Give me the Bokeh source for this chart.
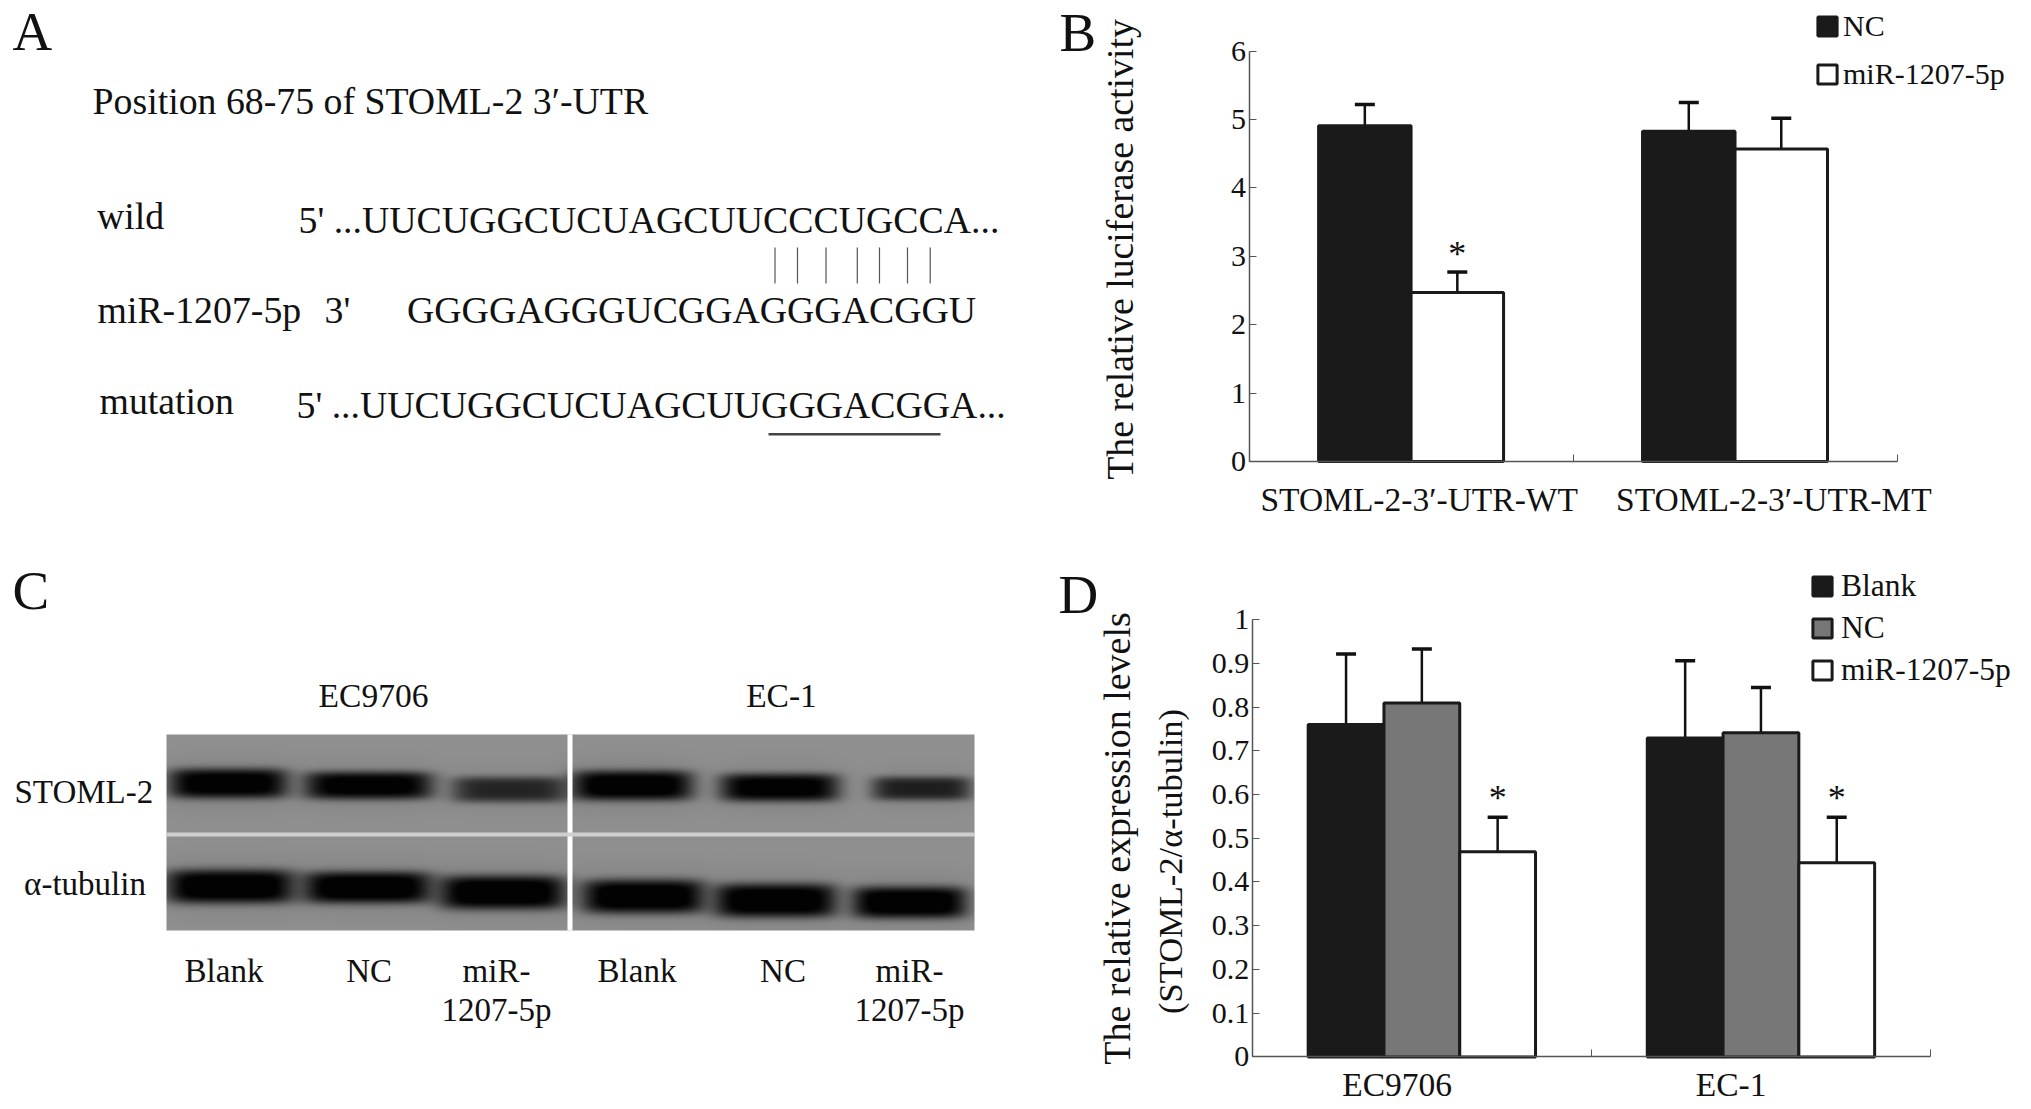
import numpy as np
from bokeh.plotting import figure
from bokeh.layouts import row, column
from bokeh.embed import file_html
from bokeh.resources import INLINE
from bokeh.core.properties import value
from bokeh.models import (ColumnDataSource, FixedTicker, Range1d, Legend, LegendItem,
                          Whisker, TeeHead, Label)

# ---- panel B data
b_groups = ["STOML-2-3′-UTR-WT", "STOML-2-3′-UTR-MT"]
b_series = ["NC", "miR-1207-5p"]
b_nc = [4.91, 4.83]
b_mir = [2.47, 4.57]
b_nc_top = [5.22, 5.25]
b_mir_top = [2.77, 5.02]
b_sig = ["*", ""]
b_yticks = [0, 1, 2, 3, 4, 5, 6]

# ---- panel D data
d_groups = ["EC9706", "EC-1"]
d_series = ["Blank", "NC", "miR-1207-5p"]
d_blank = [0.76, 0.729]
d_nc = [0.809, 0.741]
d_mir = [0.469, 0.444]
d_blank_top = [0.9215, 0.906]
d_nc_top = [0.933, 0.845]
d_mir_top = [0.548, 0.548]
d_sig = ["*", "*"]
d_yticks = [0, 0.1, 0.2, 0.3, 0.4, 0.5, 0.6, 0.7, 0.8, 0.9, 1]
d_yticklabels = ["0", "0.1", "0.2", "0.3", "0.4", "0.5", "0.6", "0.7", "0.8", "0.9", "1"]

# ---- panel A texts
a_title = "Position 68-75 of STOML-2 3′-UTR"
a_wild = "5' ...UUCUGGCUCUAGCUUCCCUGCCA..."
a_mir = "GGGGAGGGUCGGAGGGACGGU"
a_mut = "5' ...UUCUGGCUCUAGCUUGGGACGGA..."

# ---- panel C lanes: centre x, half width, centre y, half height, darkness (page pixels of the photo)
c_x_top = [228, 368, 509, 632, 779, 921]
c_w_top = [60, 65, 58, 61, 60, 50]
c_y_top = [783, 785, 789, 785, 787, 788]
c_h_top = [15, 14, 13, 15, 14, 12]
c_d_top = [0.97, 0.95, 0.68, 0.98, 0.95, 0.72]
c_x_bot = [230, 367, 502, 643, 775, 909]
c_w_bot = [65, 65, 64, 62, 62, 58]
c_y_bot = [886, 887, 892, 896, 900, 902]
c_h_bot = [17, 16, 17, 17, 17, 16]
c_d_bot = [1.0, 1.0, 1.0, 1.0, 1.0, 1.0]

SERIF = "Liberation Serif"
PAGE_H = 1109
BASE_SHIFT = 0.33   # glyph text sits this many em lower than its anchor


def Y(py):
    return PAGE_H - py


def page_figure(x0, x1, y0, y1):
    p = figure(width=x1 - x0, height=y1 - y0, x_range=Range1d(x0, x1), y_range=Range1d(Y(y1), Y(y0)),
               output_backend="svg", toolbar_location=None, min_border=0, outline_line_color=None)
    p.axis.visible = False
    p.grid.visible = False
    return p


def put(p, x, y, s, size=37.8, align="left", color="#111111"):
    p.text(x=[x], y=[Y(y - BASE_SHIFT * size)], text=[s], text_font=value(SERIF), text_font_size=f"{size}px",
           text_align=align, text_baseline="alphabetic", text_color=color)


# ---------------- panel A
pA = page_figure(0, 1040, 0, 540)
put(pA, 12, 49.5, "A", 55)
put(pA, 92, 113, a_title)
put(pA, 96.5, 228, "wild")
put(pA, 298, 232, a_wild)
put(pA, 97, 322, "miR-1207-5p")
put(pA, 324, 322, "3'")
put(pA, 406.5, 322, a_mir)
put(pA, 99, 413, "mutation")
put(pA, 296, 417, a_mut)
pair_x = [774.5, 797, 825.5, 856.8, 879, 907, 929.7]
pA.segment(x0=pair_x, x1=pair_x, y0=[Y(247)] * 7, y1=[Y(283)] * 7, line_color="#555555", line_width=1.2)
pA.segment(x0=[768], x1=[940], y0=[Y(433.7)], y1=[Y(433.7)], line_color="#444444", line_width=2.5)

# ---------------- panel C
pC = page_figure(0, 1040, 540, 1109)
put(pC, 12, 608.5, "C", 55)
bx0, bx1, by0, by1 = 166, 974, 734, 930
xx, yy = np.meshgrid(np.arange(bx0, bx1) + 0.5, np.arange(by0, by1) + 0.5)
shade = np.ones_like(xx)
for xs, ws, ys, hs, ds in [(c_x_top, c_w_top, c_y_top, c_h_top, c_d_top),
                           (c_x_bot, c_w_bot, c_y_bot, c_h_bot, c_d_bot)]:
    for cx, w, cy, h, d in zip(xs, ws, ys, hs, ds):
        f = np.exp(-((xx - cx) / w) ** 6 - ((yy - cy) / h) ** 4)
        glow = np.exp(-((xx - cx) / (w * 1.1)) ** 4 - ((yy - cy) / (h * 1.6)) ** 2)
        shade *= 1 - np.clip(d * f + 0.12 * d * glow, 0, 1)
gray = 2 + 142 * shade
rgba = np.zeros(xx.shape, dtype=np.uint32)
g = gray.astype(np.uint32)
rgba[:] = (255 << 24) | (g << 16) | (g << 8) | g
pC.image_rgba(image=[rgba[::-1]], x=bx0, y=Y(by1), dw=bx1 - bx0, dh=by1 - by0)
pC.quad(left=[567], right=[572], bottom=[Y(by1)], top=[Y(by0)], fill_color="white", line_color=None)
pC.quad(left=[bx0], right=[bx1], bottom=[Y(836)], top=[Y(832)], fill_color="#cfcfcf", line_color=None)
put(pC, 373, 706, "EC9706", 33.5, "center")
put(pC, 781, 706, "EC-1", 33.5, "center")
put(pC, 14, 802, "STOML-2", 33)
put(pC, 23.6, 894, "α-tubulin", 33)
for cx, s in [(223.5, "Blank"), (368.6, "NC"), (636.5, "Blank"), (782.5, "NC")]:
    put(pC, cx, 981.7, s, 33, "center")
for cx in (496, 909):
    put(pC, cx, 981.7, "miR-", 33, "center")
    put(pC, cx, 1020, "1207-5p", 33, "center")


# ---------------- bar panels: the frame fills the whole box, the axes are pinned at zero
class Box:
    def __init__(self, left, bottom_page, x0_px, x_unit, y0_px, y_unit):
        self.left, self.x0_px, self.x_unit, self.y0_px, self.y_unit = left, x0_px, x_unit, y0_px, y_unit
        self.bottom_page = bottom_page

    def dx(self, px):
        return (px - self.x0_px) / self.x_unit

    def dy(self, py):
        return (self.y0_px - py) / self.y_unit


def bar_figure(box, right_page, top_page, ymax, yticks, ylabels, ticklabel_x, labels, standoff):
    p = figure(width=right_page - box.left, height=box.bottom_page - top_page,
               x_range=Range1d(box.dx(box.left), box.dx(right_page)),
               y_range=Range1d(box.dy(box.bottom_page), box.dy(top_page)),
               output_backend="svg", toolbar_location=None, outline_line_color=None, min_border=0)
    p.grid.visible = False
    p.xaxis.fixed_location = 0
    p.yaxis.fixed_location = 0
    p.xaxis.bounds = (0, 2)
    p.yaxis.bounds = (0, ymax)
    p.yaxis.ticker = FixedTicker(ticks=yticks)
    p.yaxis.major_label_overrides = dict(zip(yticks, ylabels))
    p.yaxis.major_tick_in = 7
    p.yaxis.major_tick_out = 0
    p.yaxis.minor_tick_line_color = None
    p.yaxis.major_label_standoff = 3
    p.xaxis.ticker = FixedTicker(ticks=ticklabel_x, minor_ticks=[0, 1, 2])
    p.xaxis.major_label_overrides = dict(zip(ticklabel_x, labels))
    p.xaxis.major_tick_line_color = None
    p.xaxis.minor_tick_in = 7
    p.xaxis.minor_tick_out = 0
    p.xaxis.major_label_standoff = standoff
    for ax in (p.xaxis, p.yaxis):
        ax.axis_line_color = "#555555"
        ax.axis_line_width = 1.5
        ax.major_label_text_font = SERIF
        ax.major_label_text_color = "#111111"
    p.xaxis.minor_tick_line_color = "#555555"
    p.yaxis.major_tick_line_color = "#555555"
    p.xaxis.major_label_text_font_size = "33.5px"
    p.yaxis.major_label_text_font_size = "30px"
    return p


def add_bars(p, centers, vals, tops, offset, w, fill, cap):
    src = ColumnDataSource(dict(x=[c + offset for c in centers], y=vals, top=tops))
    r = p.vbar(x="x", top="y", bottom=0, width=w, source=src, fill_color=fill,
               line_color="#1a1a1a", line_width=3)
    p.add_layout(Whisker(source=src, base="x", lower="y", upper="top", lower_head=None,
                         upper_head=TeeHead(size=cap, line_width=3.5, line_color="#111111"),
                         line_color="#111111", line_width=2.5))
    return r


def add_stars(p, centers, tops, offset, sig, yoff):
    p.text(x=[c + offset for c in centers], y=tops, text=sig, text_font=value(SERIF), text_font_size="36px",
           text_align="center", text_baseline="alphabetic", y_offset=yoff, text_color="#111111")


def add_legend(p, names, rends, x, y, spacing, size, standoff):
    items = [LegendItem(label=value(n), renderers=[r]) for n, r in zip(names, rends)]
    leg = Legend(items=items, location=(x, y), orientation="vertical", padding=0, margin=0,
                 spacing=spacing, glyph_width=24, glyph_height=24, label_standoff=standoff,
                 border_line_color=None, background_fill_alpha=0,
                 label_text_font=SERIF, label_text_font_size=f"{size}px", label_text_color="#111111",
                 label_height=20)
    p.add_layout(leg, "center")


def side_text(p, x, y, s, size, angle=np.pi / 2, align="center"):
    p.add_layout(Label(x=x, y=y, text=s, text_font=SERIF, text_font_size=f"{size}px", angle=angle,
                       text_align=align, text_baseline="alphabetic", text_color="#111111"))


# ---- panel B (axes: x 1248.6..1896.5, y 51..461 on the page)
boxB = Box(1040, 540, 1248.6, 323.95, 461.0, 68.4)
pB = bar_figure(boxB, 2031, 0, 6, b_yticks, [str(t) for t in b_yticks], [0.525, 1.62], b_groups, 13)
b_centers = [0.5, 1.5]
bw = 0.2855
r1 = add_bars(pB, b_centers, b_nc, b_nc_top, -bw / 2, bw, "#1a1a1a", 20)
r2 = add_bars(pB, b_centers, b_mir, b_mir_top, bw / 2, bw, "white", 20)
add_stars(pB, b_centers, b_mir_top, bw / 2, b_sig, -18)
add_legend(pB, b_series, [r1, r2], 775, 449, 14, 30, 4)
side_text(pB, boxB.dx(1119), boxB.dy(249), "The relative luciferase activity", 37.8)
side_text(pB, boxB.dx(1059), boxB.dy(32), "B", 55, 0, "left")

# ---- panel D (axes: x 1251.8..1930, y 619..1056.4 on the page)
boxD = Box(1040, 1109, 1251.8, 339.1, 1056.4, 437.3)
pD = bar_figure(boxD, 2031, 540, 1, d_yticks, d_yticklabels, [0.427, 1.412], d_groups, 3)
d_centers = [0.5, 1.5]
dw = 0.2235
r1 = add_bars(pD, d_centers, d_blank, d_blank_top, -dw, dw, "#1a1a1a", 20)
r2 = add_bars(pD, d_centers, d_nc, d_nc_top, 0, dw, "#777777", 20)
r3 = add_bars(pD, d_centers, d_mir, d_mir_top, dw, dw, "white", 20)
add_stars(pD, d_centers, d_mir_top, dw, d_sig, -19)
add_legend(pD, d_series, [r1, r2, r3], 770, 421, 6, 31.5, 7)
side_text(pD, boxD.dx(1116), boxD.dy(838), "The relative expression levels", 38)
side_text(pD, boxD.dx(1169), boxD.dy(861), "(STOML-2/α-tubulin)", 34.5)
side_text(pD, boxD.dx(1058), boxD.dy(594), "D", 55, 0, "left")

page = row(column(pA, pC), column(pB, pD), spacing=0)
open("out.html", "w").write(file_html(page, INLINE))
